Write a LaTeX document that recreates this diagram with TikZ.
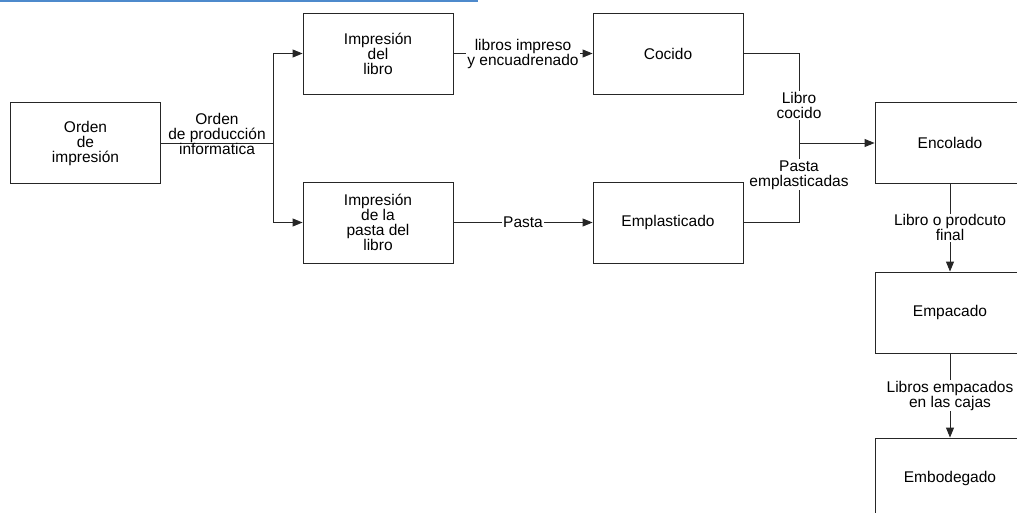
\documentclass[tikz,border=0pt]{standalone}
\usepackage{fontspec}
\setmainfont{Liberation Sans}
\usetikzlibrary{
    positioning,  % Required for relative placement
    arrows.meta   % Required for "Triangle" arrowheads
}
\definecolor{topbar}{RGB}{78,138,204}

\begin{document}
\begin{tikzpicture}[x=1pt, y=-1pt,
        every node/.style={font=\fontsize{15.5}{15}\selectfont},
        proc/.style={draw=black!85, line width=0.9pt, minimum width=150pt, minimum height=81pt, align=center, inner sep=2pt},
        link/.style={draw=black!85, line width=0.9pt},
        flow/.style={link, -{Triangle[length=10pt,width=8pt]}},
        lbl/.style={fill=white, inner sep=1pt, align=center}]
        \useasboundingbox (0,0) rectangle (1017,513);

        % Blue bar at the top
        \fill[topbar] (0,0) rectangle (478,2.5);

        % Process boxes
        \node[proc] (orden) at (85.5,143) {Orden\\de\\impresión};
        \node[proc] (impLibro) at (378,53.5) {Impresión\\del\\libro};
        \node[proc] (impPasta) at (378,222.5) {Impresión\\de la\\pasta del\\libro};
        \node[proc] (cocido) at (668,53.5) {Cocido};
        \node[proc] (emplast) at (668,222.5) {Emplasticado};
        \node[proc] (encolado) at (950,143) {Encolado};
        \node[proc] (empacado) at (950,312.5) {Empacado};
        \node[proc] (embodegado) at (950,478.5) {Embodegado};

        % Junction points
        \coordinate (split) at (273,143);
        \coordinate (join) at (799,143);

        % Order splits into the two printing steps
        \draw[link] (orden) -- node[midway, yshift=9pt, align=center] {Orden\\de producción\\informatica} (split);
        \draw[flow] (split) |- (impLibro.west);
        \draw[flow] (split) |- (impPasta.west);

        % Printing to binding and laminating
        \draw[flow] (impLibro) -- node[lbl] {libros impreso\\y encuadrenado} (cocido);
        \draw[flow] (impPasta) -- node[lbl] {Pasta} (emplast);

        % Both branches meet at gluing
        \draw[link] (cocido.east) -| node[lbl, pos=0.79] {Libro\\cocido} (join);
        \draw[link] (emplast.east) -| node[lbl, pos=0.80] {Pasta\\emplasticadas} (join);
        \draw[flow] (join) -- (encolado);

        % Down to packing and storage
        \draw[flow] (encolado) -- node[lbl] {Libro o prodcuto\\final} (empacado);
        \draw[flow] (empacado) -- node[lbl] {Libros empacados\\en las cajas} (embodegado);
\end{tikzpicture}
\end{document}
